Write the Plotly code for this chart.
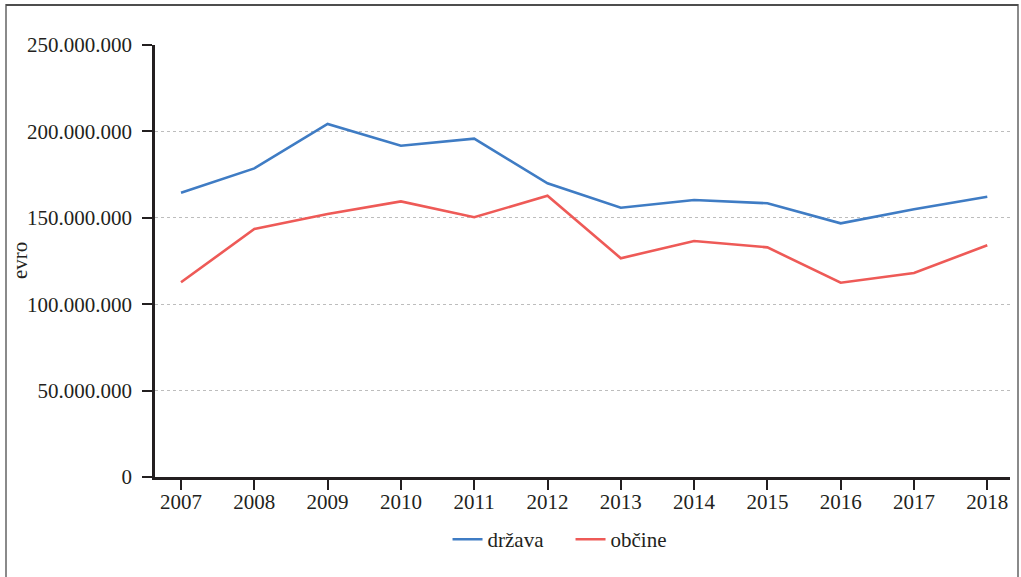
import plotly.graph_objects as go

years = ["2007", "2008", "2009", "2010", "2011", "2012", "2013", "2014", "2015", "2016", "2017", "2018"]
drzava = [164.5e6, 178.6e6, 204.3e6, 191.7e6, 195.8e6, 170.0e6, 155.8e6, 160.3e6, 158.4e6, 146.8e6, 154.9e6, 162.2e6]
obcine = [112.7e6, 143.5e6, 152.2e6, 159.5e6, 150.3e6, 162.8e6, 126.6e6, 136.6e6, 132.9e6, 112.4e6, 118.1e6, 134.1e6]
y_ticks = [0, 50e6, 100e6, 150e6, 200e6, 250e6]
y_title = "evro"

FONT = "Liberation Serif"
INK = "#231f20"
FS = 21

fig = go.Figure()
fig.add_trace(go.Scatter(x=years, y=drzava, mode="lines", name="država",
                         line=dict(color="#3f7cc4", width=2.6)))
fig.add_trace(go.Scatter(x=years, y=obcine, mode="lines", name="občine",
                         line=dict(color="#ee5a57", width=2.6)))

fig.update_layout(
    width=1021, height=577,
    margin=dict(l=155, r=11, t=45, b=100, autoexpand=False),
    paper_bgcolor="white", plot_bgcolor="white",
    separators=",.",
    font=dict(family=FONT, size=FS, color=INK),
    showlegend=True,
    legend=dict(orientation="h", x=0.486, xanchor="center", y=-0.145, yanchor="middle",
                font=dict(family=FONT, size=FS, color=INK), itemwidth=30,
                entrywidth=78, tracegroupgap=0, traceorder="normal"),
    xaxis=dict(type="category", range=[-0.355, 11.31], showgrid=False,
               showline=True, linecolor=INK, linewidth=2.5,
               ticks="outside", ticklen=10, tickwidth=1.5, tickcolor=INK,
               ticklabelstandoff=-6,
               tickfont=dict(family=FONT, size=FS, color=INK), zeroline=False),
    yaxis=dict(range=[0, 250e6], tickvals=y_ticks, tickformat=",d",
               showgrid=True, gridcolor="#bdbdbd", gridwidth=1, griddash="dot",
               showline=True, linecolor=INK, linewidth=2.5,
               ticks="outside", ticklen=10, tickwidth=1.5, tickcolor=INK,
               ticklabelstandoff=6,
               tickfont=dict(family=FONT, size=FS, color=INK), zeroline=False),
)

# y-axis title
fig.add_annotation(text=y_title, xref="paper", yref="paper",
                   x=(20 - 155) / 855, y=0.5, xanchor="center", yanchor="middle",
                   textangle=-90, showarrow=False,
                   font=dict(family=FONT, size=FS, color=INK))

# outer frame of the figure
fig.add_shape(type="rect", xref="paper", yref="paper",
              x0=(6 - 155) / 855, x1=(1018 - 155) / 855,
              y0=(477 - 590) / 432, y1=(477 - 5) / 432,
              line=dict(color="#8a8a8a", width=2), layer="below")
fig.add_shape(type="line", xref="paper", yref="paper",
              x0=(6 - 155) / 855, x1=(1018 - 155) / 855,
              y0=(477 - 5) / 432, y1=(477 - 5) / 432,
              line=dict(color="#3a3a3a", width=1.5), layer="below")

fig.write_html("out.html", config={"displayModeBar": False},
               post_script="document.body.style.margin='0';document.body.style.overflow='hidden';")
